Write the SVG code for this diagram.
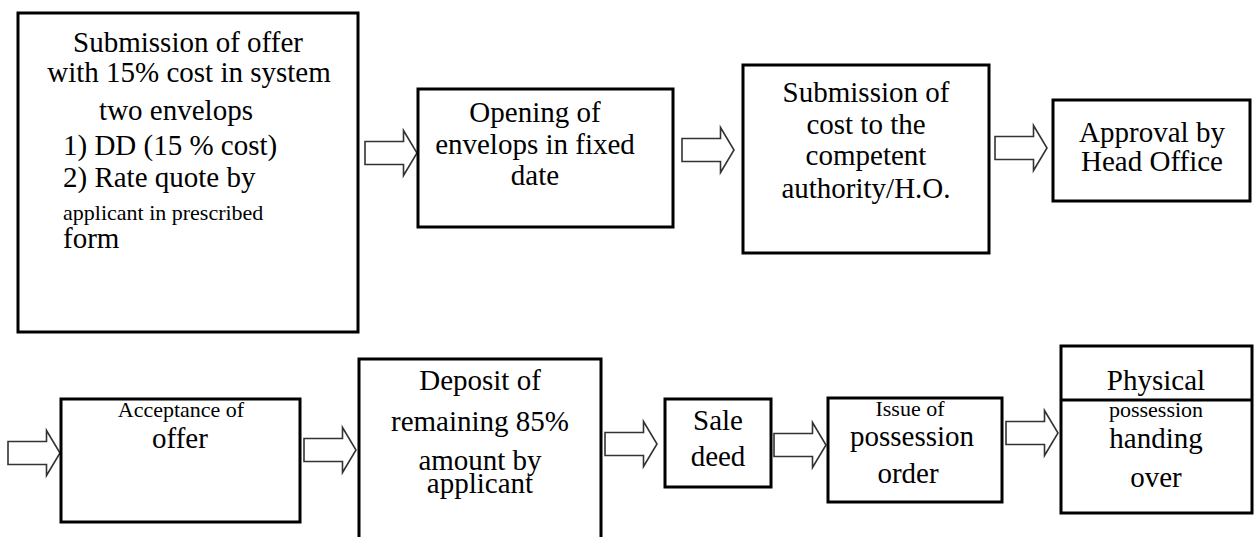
<svg xmlns="http://www.w3.org/2000/svg" xmlns:xlink="http://www.w3.org/1999/xlink" width="1256" height="537" viewBox="0 0 1256 537">
<style>
.box{fill:#fff;stroke:#000;stroke-width:3}
.open{fill:none;stroke:#000;stroke-width:3}
.t{font-size:29px;fill:#000;text-anchor:middle}
.s{font-size:22px}
.l{text-anchor:start}
.arr{fill:#fff;stroke:#333;stroke-width:1.6;stroke-linejoin:miter}
</style>
<defs>
<path id="arrow" class="arr" d="M0,-11.5 H38.5 V-22.5 L52,0 L38.5,22.5 V11.5 H0 Z"/>
</defs>
<rect width="1256" height="537" fill="#fff"/>

<g id="connectors">
<use xlink:href="#arrow" href="#arrow" x="365" y="153"/>
<use xlink:href="#arrow" href="#arrow" x="682" y="150"/>
<use xlink:href="#arrow" href="#arrow" x="995" y="148"/>
<use xlink:href="#arrow" href="#arrow" x="8" y="453"/>
<use xlink:href="#arrow" href="#arrow" x="304" y="450"/>
<use xlink:href="#arrow" href="#arrow" x="605" y="444"/>
<use xlink:href="#arrow" href="#arrow" x="774" y="445"/>
<use xlink:href="#arrow" href="#arrow" x="1006" y="433"/>
</g>

<g font-family="'Liberation Serif', Tinos, 'Times New Roman', 'DejaVu Serif', 'Noto Serif', serif">
<g id="node-submission-offer">
<rect class="box" x="18" y="13" width="340" height="319"/>
<text class="t" x="188" y="52">Submission of offer</text>
<text class="t" x="189" y="82">with 15% cost in system</text>
<text class="t" x="176" y="120">two envelops</text>
<text class="t l" x="63" y="155">1) DD (15 % cost)</text>
<text class="t l" x="63" y="187">2) Rate quote by</text>
<text class="t s l" x="63" y="220">applicant in prescribed</text>
<text class="t l" x="63" y="248">form</text>
</g>

<g id="node-opening">
<rect class="box" x="418" y="89" width="255" height="138"/>
<text class="t" x="535" y="122">Opening of</text>
<text class="t" x="535" y="154">envelops in fixed</text>
<text class="t" x="535" y="185">date</text>
</g>

<g id="node-submission-cost">
<rect class="box" x="743" y="65" width="246" height="188"/>
<text class="t" x="866" y="102">Submission of</text>
<text class="t" x="866" y="134">cost to the</text>
<text class="t" x="866" y="165">competent</text>
<text class="t" x="866" y="198">authority/H.O.</text>
</g>

<g id="node-approval">
<rect class="box" x="1053" y="100" width="197" height="101"/>
<text class="t" x="1152" y="142">Approval by</text>
<text class="t" x="1152" y="171">Head Office</text>
</g>

<g id="node-acceptance">
<rect class="box" x="61" y="399" width="239" height="123"/>
<text class="t s" x="181" y="417">Acceptance of</text>
<text class="t" x="180" y="448">offer</text>
</g>

<g id="node-deposit">
<path class="open" d="M359,540 V359 H601 V540"/>
<text class="t" x="480" y="390">Deposit of</text>
<text class="t" x="480" y="431">remaining 85%</text>
<text class="t" x="480" y="470">amount by</text>
<text class="t" x="480" y="493">applicant</text>
</g>

<g id="node-sale-deed">
<rect class="box" x="665" y="399" width="106" height="88"/>
<text class="t" x="718" y="430">Sale</text>
<text class="t" x="718" y="466">deed</text>
</g>

<g id="node-issue">
<rect class="box" x="828" y="398" width="174" height="104"/>
<text class="t s" x="910" y="416">Issue of</text>
<text class="t" x="912" y="446">possession</text>
<text class="t" x="908" y="483">order</text>
</g>

<g id="node-physical">
<rect class="box" x="1061" y="346" width="191" height="167"/>
<line x1="1061" y1="400" x2="1252" y2="400" stroke="#000" stroke-width="3"/>
<text class="t" x="1156" y="390">Physical</text>
<text class="t s" x="1156" y="417">possession</text>
<text class="t" x="1156" y="448">handing</text>
<text class="t" x="1156" y="487">over</text>
</g>
</g>
</svg>
